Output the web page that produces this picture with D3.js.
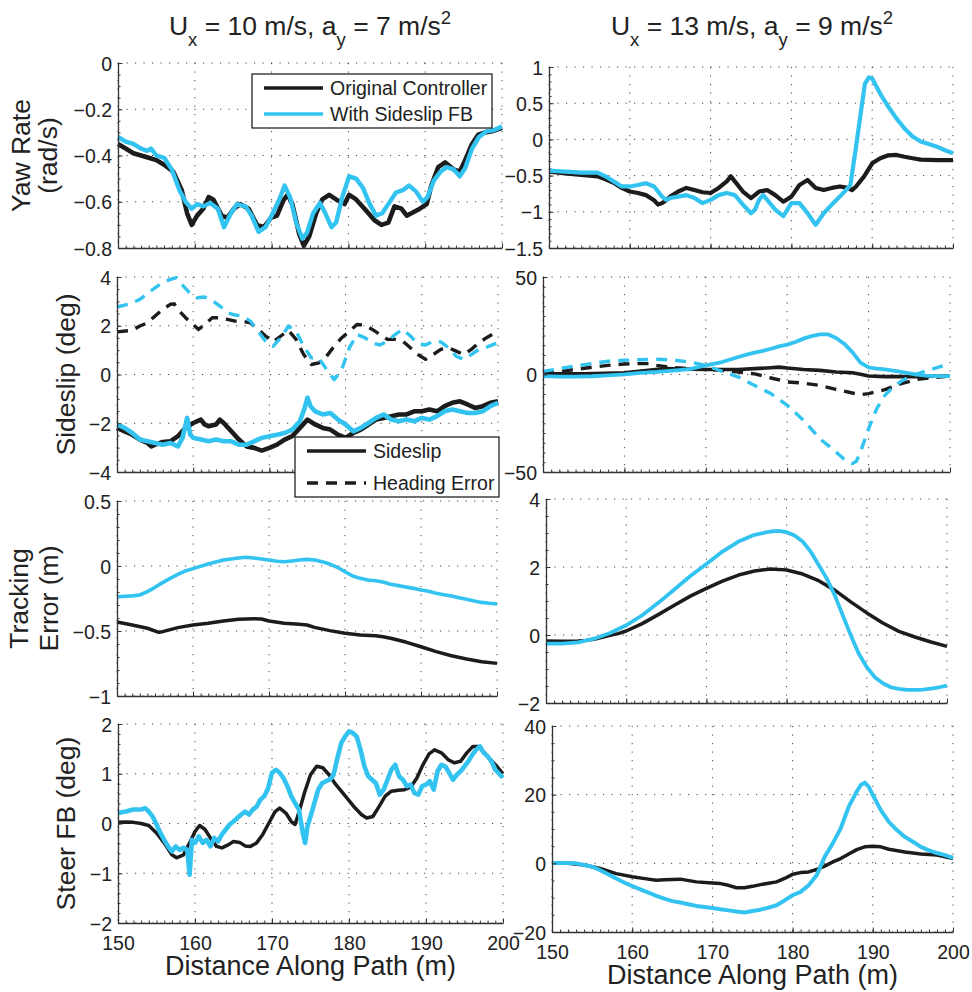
<!DOCTYPE html>
<html>
<head>
<meta charset="utf-8">
<script src="https://cdn.jsdelivr.net/npm/d3@7"></script>
<style>
  body { margin: 0; background: #fff; }
  text { font-family: "Liberation Sans", Arial, sans-serif; fill: #222; }
</style>
</head>
<body>
<div id="chart"></div>
<script>
// distance ticks shared by every panel
var xTicks = [150, 160, 170, 180, 190, 200];

// ---- yaw rate (rad/s)
var yawA_orig = [[150,-0.35],[151,-0.37],[152,-0.39],[153,-0.40],[154,-0.41],[155,-0.42],[156,-0.44],[157.2,-0.47],[158.3,-0.55],[159,-0.65],[159.6,-0.70],[160.3,-0.66],[161.1,-0.63],[161.8,-0.58],[162.4,-0.59],[163.5,-0.66],[164.2,-0.67],[165.1,-0.63],[165.9,-0.61],[167,-0.63],[168.1,-0.70],[169,-0.71],[169.9,-0.67],[170.7,-0.66],[171.6,-0.59],[172.1,-0.57],[172.7,-0.61],[173.6,-0.74],[174.2,-0.79],[174.9,-0.75],[175.8,-0.65],[176.6,-0.59],[177.5,-0.57],[178.4,-0.59],[179.5,-0.61],[180.1,-0.57],[181,-0.59],[182.1,-0.63],[183.4,-0.68],[184.3,-0.70],[185.2,-0.69],[186,-0.62],[186.9,-0.63],[187.6,-0.66],[188.2,-0.65],[189.3,-0.63],[190.2,-0.61],[190.8,-0.53],[191.7,-0.45],[192.6,-0.43],[193.7,-0.46],[194.5,-0.47],[195.2,-0.42],[196.1,-0.35],[196.9,-0.31],[197.8,-0.30],[198.7,-0.295],[200,-0.28]];
var yawA_fb = [[150,-0.32],[151,-0.34],[152,-0.35],[153,-0.37],[153.8,-0.38],[154.3,-0.37],[155,-0.40],[156,-0.41],[157,-0.46],[158,-0.55],[158.8,-0.60],[159.6,-0.63],[160.3,-0.61],[161.1,-0.62],[162,-0.605],[163,-0.63],[163.8,-0.71],[164.7,-0.65],[165.5,-0.61],[166.6,-0.62],[167.4,-0.66],[168.3,-0.73],[169.2,-0.71],[170,-0.66],[171,-0.59],[171.7,-0.53],[172.4,-0.58],[173.2,-0.69],[174,-0.76],[174.6,-0.735],[175.4,-0.65],[176.3,-0.605],[177,-0.65],[177.8,-0.71],[178.4,-0.69],[179.2,-0.58],[180.1,-0.49],[181,-0.50],[181.9,-0.54],[182.7,-0.605],[183.6,-0.66],[184.4,-0.65],[185.3,-0.605],[186.2,-0.56],[187.1,-0.55],[187.9,-0.53],[188.8,-0.555],[189.7,-0.60],[190.3,-0.58],[191.1,-0.51],[192,-0.47],[192.8,-0.45],[193.7,-0.46],[194.5,-0.49],[195.2,-0.455],[196.1,-0.37],[197,-0.32],[198,-0.295],[199,-0.29],[200,-0.275]];
var yawB_orig = [[150,-0.445],[152,-0.47],[154,-0.49],[156,-0.51],[157,-0.55],[158,-0.60],[159,-0.67],[160,-0.72],[161,-0.74],[162,-0.77],[163,-0.84],[163.5,-0.90],[164,-0.88],[164.5,-0.84],[165,-0.79],[166,-0.72],[167,-0.67],[168,-0.70],[169,-0.73],[170,-0.74],[171,-0.67],[172,-0.58],[172.5,-0.51],[173,-0.58],[174,-0.72],[175,-0.81],[176,-0.72],[177,-0.70],[178,-0.77],[179,-0.86],[180,-0.79],[181,-0.63],[182,-0.56],[183,-0.67],[184,-0.70],[185,-0.67],[186,-0.65],[187,-0.67],[187.5,-0.70],[188,-0.65],[189,-0.51],[190,-0.33],[191,-0.26],[192,-0.22],[193,-0.215],[194,-0.24],[195,-0.26],[196,-0.28],[198,-0.285],[200,-0.285]];
var yawB_fb = [[150,-0.43],[152,-0.445],[154,-0.46],[156,-0.46],[157,-0.51],[158,-0.58],[159,-0.65],[160,-0.65],[161,-0.63],[162,-0.605],[163,-0.65],[164,-0.79],[164.5,-0.835],[165,-0.81],[166,-0.79],[167,-0.77],[168,-0.81],[169,-0.88],[170,-0.835],[171,-0.77],[172,-0.74],[173,-0.77],[174,-0.90],[175,-1.02],[175.5,-0.97],[176,-0.835],[176.5,-0.77],[177,-0.835],[178,-0.97],[179,-1.06],[180,-0.88],[181,-0.88],[182,-1.02],[183,-1.18],[184,-1.02],[185,-0.90],[186,-0.79],[187,-0.67],[187.3,-0.63],[188,-0.10],[188.5,0.30],[189.1,0.77],[189.6,0.855],[190,0.84],[191,0.63],[192,0.45],[193,0.29],[194,0.15],[195,0.04],[196,-0.03],[197,-0.065],[198,-0.10],[199,-0.15],[200,-0.19]];

// ---- sideslip and heading error (deg)
var slipA_orig = [[150,-2.19],[151,-2.33],[152,-2.47],[153,-2.67],[154,-2.81],[154.5,-2.95],[155,-2.88],[156,-2.77],[157,-2.74],[158,-2.53],[159,-2.19],[160,-1.99],[161,-1.85],[161.5,-2.05],[162,-2.12],[163,-2.05],[163.5,-1.85],[164,-1.99],[165,-2.33],[166,-2.67],[167,-2.95],[168,-3.01],[169,-3.12],[170,-3.01],[171,-2.88],[172,-2.67],[173,-2.53],[174,-2.19],[175,-1.85],[176,-2.05],[177,-2.19],[178,-2.26],[179,-2.47],[180,-2.60],[181,-2.40],[182,-2.26],[183,-2.05],[184,-1.85],[185,-1.78],[186,-1.71],[187,-1.64],[188,-1.64],[189,-1.51],[190,-1.51],[191,-1.44],[192,-1.51],[193,-1.30],[194,-1.16],[195,-1.10],[196,-1.23],[197,-1.37],[198,-1.30],[199,-1.16],[200,-1.10]];
var slipA_fb = [[150,-2.05],[151,-2.19],[152,-2.40],[153,-2.67],[154,-2.74],[155,-2.81],[156,-2.88],[157,-2.81],[158,-2.95],[158.6,-2.60],[159.2,-1.78],[159.6,-2.45],[160,-2.60],[161,-2.67],[162,-2.74],[163,-2.67],[164,-2.74],[165,-2.74],[166,-2.88],[167,-2.88],[168,-2.74],[169,-2.60],[170,-2.53],[171,-2.47],[172,-2.40],[173,-2.26],[174,-1.92],[174.6,-1.40],[175,-0.95],[175.4,-1.30],[176,-1.51],[177,-1.64],[178,-1.58],[179,-1.85],[180,-2.05],[181,-2.33],[182,-2.19],[183,-1.99],[184,-1.78],[185,-1.64],[186,-1.85],[187,-1.92],[188,-1.85],[189,-1.92],[190,-1.78],[191,-1.85],[192,-1.71],[193,-1.51],[194,-1.44],[195,-1.51],[196,-1.58],[197,-1.58],[198,-1.51],[199,-1.30],[200,-1.16]];
var headA_orig = [[150,1.75],[152,1.81],[153,1.99],[154,2.12],[155,2.40],[156,2.67],[157,2.88],[157.5,2.90],[158,2.67],[159,2.33],[160,2.05],[160.7,1.85],[161.5,2.05],[162.5,2.33],[163.5,2.33],[164.5,2.26],[165.5,2.19],[166.5,2.19],[167.5,2.12],[168.5,1.85],[169.5,1.58],[170.5,1.34],[171.5,1.58],[172.5,1.81],[173.5,1.44],[174.5,0.82],[175.5,0.41],[176.5,0.48],[177.5,0.75],[178.5,1.16],[179.5,1.51],[180.5,1.78],[181.5,2.05],[182.5,2.03],[183.5,1.85],[184.5,1.64],[185.5,1.44],[186.5,1.44],[187.5,1.37],[188.5,1.10],[189.5,0.82],[190.5,0.62],[191.5,0.82],[192.5,1.03],[193.5,1.10],[194.5,0.96],[195.5,0.82],[196.5,1.03],[197.5,1.30],[198.5,1.51],[200,1.78]];
var headA_fb = [[150,2.77],[151.5,2.88],[153,3.08],[154,3.32],[155,3.56],[156,3.77],[157,3.90],[157.8,3.97],[158.5,3.70],[159.5,3.36],[160.5,3.15],[161.5,3.18],[162.5,3.04],[163.5,2.81],[164.5,2.53],[165.5,2.44],[166.5,2.40],[167.5,2.19],[168.5,1.78],[169.5,1.37],[170.5,1.16],[171.5,1.51],[172.5,1.99],[173.5,1.78],[174.5,1.16],[175.5,0.68],[176.5,0.66],[177.5,0.21],[178.5,-0.21],[179.5,0.21],[180.5,1.10],[181.5,1.64],[182.5,1.51],[183.5,1.30],[184.5,1.21],[185.5,1.37],[186.5,1.64],[187.5,1.85],[188.5,1.58],[189.5,1.26],[190.5,1.21],[191.5,1.37],[192.5,1.34],[193.5,1.10],[194.5,0.75],[195.5,0.62],[196.5,0.82],[197.5,1.03],[198.5,1.12],[200,1.30]];
var slipB_orig = [[150,0.4],[155,0.4],[160,0.9],[165,3.0],[170,2.6],[172,2.6],[174,2.6],[176,3.0],[178,3.5],[179,3.8],[180,3.3],[182,2.6],[184,2.1],[186,1.3],[188,0.9],[189,0.1],[190,-0.8],[192,-1.1],[194,-1.1],[196,-1.1],[198,-0.9],[200,-0.8]];
var slipB_fb = [[150,-0.8],[152,-1.1],[154,-1.1],[156,-0.9],[158,-0.4],[160,0.1],[162,0.8],[164,1.3],[166,2.0],[168,2.8],[170,4.7],[172,6.4],[174,9.0],[175,10.2],[176,11.2],[177,12.1],[178,13.2],[179,14.4],[180,15.3],[181,16.7],[182,18.4],[183,19.7],[184,20.6],[185,20.6],[186,18.7],[187,15.8],[188,11.5],[189,6.1],[190,3.7],[191,3.0],[192,2.6],[193,2.0],[194,1.3],[195,0.6],[196,-0.1],[197,-0.6],[198,-0.8],[200,-0.8]];
var headB_orig = [[150,0.9],[152,1.6],[154,2.6],[156,3.7],[158,4.7],[160,5.4],[162,5.6],[163,5.6],[164,4.7],[166,3.5],[168,3.0],[170,2.6],[172,2.1],[174,1.3],[176,0.3],[178,-1.8],[180,-3.8],[182,-4.4],[184,-5.6],[186,-7.6],[188,-9.5],[189,-10.3],[190,-9.8],[192,-7.8],[194,-4.7],[196,-2.5],[198,-1.5],[200,-0.8]];
var headB_fb = [[150,1.6],[152,3.0],[154,4.4],[156,5.6],[158,6.8],[160,7.3],[162,7.6],[164,7.8],[166,7.4],[168,6.4],[170,4.7],[172,1.6],[174,-1.3],[176,-5.6],[178,-9.8],[180,-15.8],[182,-23.5],[184,-32.9],[186,-39.7],[187,-43.5],[188,-45.7],[188.5,-44.5],[189,-39.7],[190,-27.8],[191,-17.5],[192,-10.7],[193,-6.4],[194,-3.5],[195,-1.3],[196,0.3],[197,1.8],[198,3.0],[200,5.6]];

// ---- tracking error (m)
var trackA_orig = [[150,-0.431],[152,-0.454],[154,-0.479],[155.5,-0.51],[156,-0.505],[158,-0.474],[160,-0.454],[162,-0.441],[164,-0.423],[166,-0.41],[168,-0.405],[169,-0.408],[170,-0.423],[172,-0.441],[174,-0.449],[175,-0.454],[176,-0.472],[178,-0.497],[180,-0.518],[182,-0.531],[184,-0.536],[185,-0.544],[186,-0.556],[188,-0.585],[190,-0.621],[192,-0.659],[194,-0.69],[196,-0.715],[198,-0.736],[200,-0.749]];
var trackA_fb = [[150,-0.236],[152,-0.23],[153,-0.223],[154,-0.197],[155,-0.164],[156,-0.128],[157,-0.095],[158,-0.064],[159,-0.038],[160,-0.02],[162,0.015],[164,0.046],[166,0.062],[167,0.067],[168,0.062],[169,0.054],[170,0.046],[171,0.036],[172,0.033],[173,0.038],[174,0.046],[175,0.051],[176,0.046],[177,0.033],[178,0.015],[179,-0.01],[180,-0.044],[181,-0.077],[182,-0.095],[183,-0.108],[184,-0.113],[185,-0.123],[186,-0.141],[187,-0.151],[188,-0.162],[189,-0.172],[190,-0.185],[191,-0.195],[192,-0.21],[193,-0.221],[194,-0.231],[195,-0.244],[196,-0.256],[197,-0.269],[198,-0.28],[199,-0.287],[200,-0.292]];
var trackB_orig = [[150,-0.177],[152,-0.187],[154,-0.177],[155,-0.158],[156,-0.128],[157,-0.069],[158,-0.01],[159,0.04],[160,0.118],[162,0.335],[164,0.60],[166,0.877],[168,1.143],[170,1.37],[172,1.586],[174,1.764],[176,1.882],[178,1.941],[179,1.93],[180,1.911],[182,1.793],[184,1.596],[186,1.32],[188,0.975],[190,0.65],[192,0.355],[194,0.108],[196,-0.059],[198,-0.207],[200,-0.335]];
var trackB_fb = [[150,-0.256],[152,-0.256],[154,-0.217],[156,-0.108],[158,0.059],[160,0.286],[162,0.581],[164,0.946],[166,1.34],[168,1.734],[170,2.089],[172,2.453],[174,2.749],[176,2.946],[178,3.044],[179,3.064],[180,3.025],[181,2.926],[182,2.749],[183,2.453],[184,2.059],[185,1.665],[186,1.172],[187,0.581],[188,-0.01],[189,-0.552],[190,-0.946],[191,-1.241],[192,-1.419],[193,-1.537],[194,-1.586],[195,-1.616],[196,-1.616],[197,-1.606],[198,-1.576],[199,-1.537],[200,-1.488]];

// ---- steering feedback (deg)
var steerA_orig = [[150,0.023],[151,0.03],[152,0.023],[153,0],[154,-0.04],[155,-0.19],[156,-0.39],[157,-0.63],[157.6,-0.69],[158.5,-0.63],[159.3,-0.39],[160,-0.16],[160.6,-0.04],[161.3,-0.12],[162,-0.29],[162.8,-0.46],[163.5,-0.49],[164.3,-0.43],[165,-0.36],[165.8,-0.38],[166.5,-0.45],[167.2,-0.46],[168,-0.39],[168.8,-0.22],[169.6,0.01],[170.4,0.24],[171,0.31],[171.8,0.21],[172.5,0.04],[173,-0.02],[173.6,0.28],[174.2,0.61],[175,0.98],[175.8,1.15],[176.6,1.12],[177.4,0.98],[178.3,0.78],[179,0.65],[179.9,0.48],[180.8,0.31],[181.6,0.18],[182.3,0.11],[183.1,0.14],[183.9,0.34],[184.7,0.55],[185.5,0.65],[186.4,0.67],[187.2,0.68],[188,0.73],[188.8,0.91],[189.6,1.18],[190.4,1.40],[191.1,1.48],[192,1.42],[192.9,1.28],[193.7,1.22],[194.5,1.25],[195.3,1.42],[196.1,1.55],[196.8,1.55],[197.6,1.42],[198.4,1.28],[199.2,1.15],[200,1.0]];
var steerA_fb = [[150,0.21],[151,0.24],[152,0.28],[153,0.28],[153.5,0.31],[154,0.24],[154.5,0.14],[155,-0.02],[155.5,-0.19],[156,-0.33],[156.5,-0.46],[157,-0.56],[157.5,-0.46],[158,-0.53],[158.5,-0.49],[159,-0.53],[159.3,-1.03],[159.6,-0.33],[160,-0.39],[160.5,-0.26],[161,-0.39],[161.5,-0.33],[162,-0.46],[162.5,-0.29],[163,-0.36],[163.5,-0.22],[164,-0.12],[164.5,-0.02],[165,0.04],[165.5,0.11],[166,0.18],[166.5,0.24],[167,0.18],[167.5,0.28],[168,0.34],[168.5,0.48],[169,0.55],[169.5,0.71],[170,1.02],[170.5,1.08],[171,1.02],[171.5,0.91],[172,0.75],[172.5,0.55],[173,0.41],[173.5,0.28],[174,-0.19],[174.3,-0.39],[174.6,-0.06],[175,0.14],[175.5,0.41],[176,0.68],[176.5,0.81],[177,0.85],[177.5,0.88],[178,0.98],[178.5,1.32],[179,1.62],[179.5,1.75],[180,1.85],[180.5,1.82],[181,1.75],[181.5,1.48],[182,1.15],[182.5,0.95],[183,0.88],[183.5,0.81],[184,0.58],[184.5,0.68],[185,0.88],[185.5,1.08],[186,1.18],[186.5,0.95],[187,0.88],[187.5,0.75],[188,0.78],[188.5,0.61],[189,0.58],[189.5,0.75],[190,0.78],[190.5,0.85],[191,0.68],[191.5,1.05],[192,1.18],[192.5,1.15],[193,1.02],[193.5,0.88],[194,0.98],[194.5,1.05],[195,1.15],[195.5,1.25],[196,1.38],[196.5,1.48],[197,1.55],[197.5,1.42],[198,1.35],[198.5,1.25],[199,1.08],[200,0.92]];
var steerB_orig = [[150,0],[152,0],[154,-0.5],[156,-1.5],[158,-3.0],[160,-3.9],[162,-4.6],[163,-4.9],[164,-4.8],[166,-4.6],[168,-5.4],[170,-5.7],[171,-5.9],[172,-6.4],[173,-7.1],[174,-7.1],[175,-6.7],[176,-6.2],[178,-5.4],[179,-4.4],[180,-3.2],[181,-2.7],[182,-2.5],[183,-1.8],[184,-0.8],[185,0.4],[186,1.4],[187,2.7],[188,4.0],[189,4.8],[190,5.0],[191,4.8],[192,4.1],[194,3.3],[196,2.7],[198,2.4],[200,1.4]];
var steerB_fb = [[150,0.1],[152,0.1],[153,0],[154,-0.5],[155,-1.0],[156,-2.0],[157,-3.2],[158,-4.4],[159,-5.6],[160,-6.6],[161,-7.6],[162,-8.5],[163,-9.5],[164,-10.3],[165,-11.0],[166,-11.4],[167,-11.9],[168,-12.4],[169,-12.7],[170,-13.0],[171,-13.4],[172,-13.7],[173,-14.0],[174,-14.3],[175,-13.9],[176,-13.5],[177,-12.9],[178,-12.2],[179,-10.8],[180,-9.3],[181,-8.3],[182,-6.4],[183,-3.5],[184,1.9],[185,5.8],[186,10.2],[187,16.5],[188,20.9],[188.5,22.8],[189,23.5],[189.5,22.3],[190,19.9],[191,15.5],[192,12.1],[193,9.7],[194,7.7],[195,6.3],[196,4.8],[197,3.8],[198,3.0],[199,2.4],[200,1.6]];

var BLACK = "#1c1c1c", CYAN = "#33c3f0";

var svg = d3.select("#chart").append("svg")
    .attr("width", 972)
    .attr("height", 992);

// panel boxes [left, top, right, bottom] in page pixels
var panels = [
    { box: [118, 63, 502, 248], y: [-0.8, 0], yTicks: [-0.8, -0.6, -0.4, -0.2, 0], yMinor: 0.05,
      label: ["Yaw Rate", "(rad/s)"], labelX: [30, 57],
      lines: [[yawA_orig, BLACK, 0, 4.6], [yawA_fb, CYAN, 0, 4.4]] },
    { box: [549, 67, 953, 248], y: [-1.5, 1], yTicks: [-1.5, -1, -0.5, 0, 0.5, 1], yMinor: 0.1,
      lines: [[yawB_orig, BLACK, 0, 4.2], [yawB_fb, CYAN, 0, 4.2]] },
    { box: [117, 277, 498, 472], y: [-4, 4], yTicks: [-4, -2, 0, 2, 4], yMinor: 0.5,
      label: ["Sideslip (deg)"], labelX: [75],
      lines: [[headA_orig, BLACK, 1, 3.4], [headA_fb, CYAN, 1, 3.4], [slipA_orig, BLACK, 0, 4.6], [slipA_fb, CYAN, 0, 4.6]] },
    { box: [543, 277, 950, 472], y: [-50, 50], yTicks: [-50, 0, 50], yMinor: 5,
      lines: [[headB_orig, BLACK, 1, 3.4], [slipB_orig, BLACK, 0, 3.6], [headB_fb, CYAN, 1, 3.4], [slipB_fb, CYAN, 0, 3.8]] },
    { box: [117, 501, 497, 696], y: [-1, 0.5], yTicks: [-1, -0.5, 0, 0.5], yMinor: 0.1,
      label: ["Tracking", "Error (m)"], labelX: [28, 58],
      lines: [[trackA_orig, BLACK, 0, 3.5], [trackA_fb, CYAN, 0, 3.6]] },
    { box: [546, 499, 947, 703], y: [-2, 4], yTicks: [-2, 0, 2, 4], yMinor: 0.5,
      lines: [[trackB_orig, BLACK, 0, 3.5], [trackB_fb, CYAN, 0, 3.8]] },
    { box: [118, 724, 503, 923], y: [-2, 2], yTicks: [-2, -1, 0, 1, 2], yMinor: 0.2,
      label: ["Steer FB (deg)"], labelX: [75], xLabels: true,
      lines: [[steerA_orig, BLACK, 0, 3.5], [steerA_fb, CYAN, 0, 4.6]] },
    { box: [552, 726, 953, 932], y: [-20, 40], yTicks: [-20, 0, 20, 40], yMinor: 5, xLabels: true,
      lines: [[steerB_orig, BLACK, 0, 3.5], [steerB_fb, CYAN, 0, 4.0]] }
];

var fmt = d3.format("~g");

panels.forEach(function (p) {
    var x = d3.scaleLinear().domain([150, 200]).range([p.box[0], p.box[2]]);
    var y = d3.scaleLinear().domain(p.y).range([p.box[3], p.box[1]]);
    var g = svg.append("g");

    // dotted grid
    g.selectAll(".vgrid").data(xTicks).enter().append("line")
        .attr("x1", function (d) { return x(d); }).attr("x2", function (d) { return x(d); })
        .attr("y1", p.box[1]).attr("y2", p.box[3])
        .attr("stroke", "#444").attr("stroke-width", 1).attr("stroke-dasharray", "1.2,7.3");
    g.selectAll(".hgrid").data(p.yTicks).enter().append("line")
        .attr("x1", p.box[0]).attr("x2", p.box[2])
        .attr("y1", function (d) { return y(d); }).attr("y2", function (d) { return y(d); })
        .attr("stroke", "#444").attr("stroke-width", 1).attr("stroke-dasharray", "1.2,7.3");

    // minor ticks
    var xMinor = d3.range(150, 200.001, 1);
    var yMinor = d3.range(p.y[0], p.y[1] + p.yMinor / 2, p.yMinor);
    g.append("g")
        .attr("transform", "translate(0," + p.box[3] + ")")
        .call(d3.axisBottom(x).tickValues(xMinor).tickSize(-2.5).tickFormat(""))
        .call(function (a) { a.select(".domain").remove(); a.selectAll("line").attr("stroke", "#333"); });
    g.append("g")
        .attr("transform", "translate(" + p.box[0] + ",0)")
        .call(d3.axisLeft(y).tickValues(yMinor).tickSize(-2.5).tickFormat(""))
        .call(function (a) { a.select(".domain").remove(); a.selectAll("line").attr("stroke", "#333"); });

    // data lines
    p.lines.forEach(function (s) {
        g.append("path")
            .datum(s[0])
            .attr("fill", "none")
            .attr("stroke", s[1])
            .attr("stroke-width", s[3])
            .attr("stroke-linejoin", "round")
            .attr("stroke-dasharray", s[2] ? "11,8" : null)
            .attr("d", d3.line()
                .x(function (d) { return x(d[0]); })
                .y(function (d) { return y(d[1]); }));
    });

    // main axes
    var xa = g.append("g")
        .attr("transform", "translate(0," + p.box[3] + ")")
        .call(d3.axisBottom(x).tickValues(xTicks).tickSizeInner(-4.5).tickSizeOuter(0).tickPadding(8)
            .tickFormat(p.xLabels ? fmt : ""));
    var ya = g.append("g")
        .attr("transform", "translate(" + p.box[0] + ",0)")
        .call(d3.axisLeft(y).tickValues(p.yTicks).tickSizeInner(-4.5).tickSizeOuter(0).tickPadding(6)
            .tickFormat(fmt));
    [xa, ya].forEach(function (a) {
        a.select(".domain").attr("stroke", "#333").attr("stroke-width", 1.3);
        a.selectAll("line").attr("stroke", "#333");
        a.selectAll("text").style("font-size", "19.5px").attr("fill", "#222")
            .style("font-family", "'Liberation Sans', Arial, sans-serif");
    });
    xa.selectAll("text").attr("dy", "0.95em");
    ya.selectAll("text").attr("dy", "0.36em");

    // rotated y label
    if (p.label) {
        var cy = (p.box[1] + p.box[3]) / 2;
        p.label.forEach(function (t, i) {
            svg.append("text")
                .attr("transform", "translate(" + p.labelX[i] + "," + cy + ") rotate(-90)")
                .attr("text-anchor", "middle")
                .style("font-size", "26.5px")
                .text(t);
        });
    }

    if (p.xLabels) {
        svg.append("text")
            .attr("x", (p.box[0] + p.box[2]) / 2)
            .attr("y", p.box[3] + 52)
            .attr("text-anchor", "middle")
            .style("font-size", "27px")
            .text("Distance Along Path (m)");
    }
});

// column titles with sub / superscripts
function title(cx, u, a) {
    var t = svg.append("text")
        .attr("x", cx).attr("y", 35)
        .attr("text-anchor", "middle")
        .style("font-size", "26.5px");
    t.append("tspan").text("U");
    t.append("tspan").attr("dy", 11).style("font-size", "18.5px").text("x");
    t.append("tspan").attr("dy", -11).text(" = " + u + " m/s, a");
    t.append("tspan").attr("dy", 11).style("font-size", "18.5px").text("y");
    t.append("tspan").attr("dy", -11).text(" = " + a + " m/s");
    t.append("tspan").attr("dy", -11).style("font-size", "18.5px").text("2");
}
title(310, 10, 7);
title(752, 13, 9);

// legends
function legend(x0, y0, w, h, rows) {
    var lg = svg.append("g");
    lg.append("rect")
        .attr("x", x0).attr("y", y0).attr("width", w).attr("height", h)
        .attr("fill", "#fff").attr("stroke", "#111").attr("stroke-width", 1.2);
    rows.forEach(function (r, i) {
        var yy = y0 + 14 + i * (h - 28);
        lg.append("line")
            .attr("x1", x0 + 12).attr("x2", x0 + 71)
            .attr("y1", yy).attr("y2", yy)
            .attr("stroke", r.color).attr("stroke-width", 3.4)
            .attr("stroke-dasharray", r.dash ? "11,8" : null);
        lg.append("text")
            .attr("x", x0 + 78).attr("y", yy + 7)
            .style("font-size", "19.5px")
            .text(r.name);
    });
}
legend(252, 74, 240, 54, [
    { name: "Original Controller", color: BLACK },
    { name: "With Sideslip FB", color: CYAN }
]);
legend(295, 437, 204, 60, [
    { name: "Sideslip", color: BLACK },
    { name: "Heading Error", color: BLACK, dash: true }
]);
</script>
</body>
</html>
